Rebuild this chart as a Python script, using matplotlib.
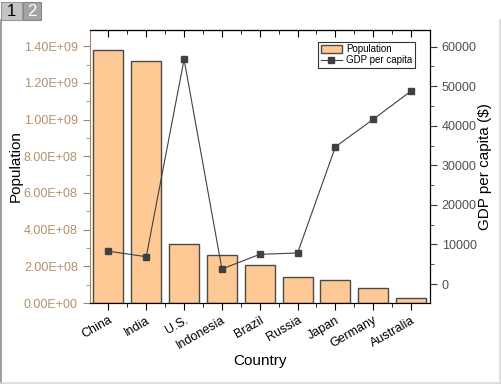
import numpy as np
import matplotlib
matplotlib.use("Agg")
import matplotlib.pyplot as plt
from matplotlib.ticker import FixedLocator, MultipleLocator, FuncFormatter, NullFormatter
from matplotlib.patches import Rectangle
from matplotlib.lines import Line2D

plt.rcParams['font.family'] = ['Liberation Sans', 'DejaVu Sans']

countries = ["China", "India", "U.S.", "Indonesia", "Brazil", "Russia", "Japan", "Germany", "Australia"]
population = [1.379e9, 1.319e9, 3.20e8, 2.62e8, 2.07e8, 1.40e8, 1.24e8, 8.0e7, 2.5e7]
gdp_per_capita = [8300, 6900, 56800, 3800, 7500, 7850, 34700, 41650, 48800]

bar_color = "#fec994"
edge_color = "#4a4a4a"
left_color = "#a88462"
left_text = "#b4906c"
right_text = "#505050"

fig = plt.figure(figsize=(5.02, 3.85), dpi=100)
ax = fig.add_axes([89.5 / 502, 1 - 303 / 385, (430 - 89.5) / 502, (303 - 29.7) / 385])
ax2 = ax.twinx()

x = np.arange(len(countries))
ax.bar(x, population, width=0.79, color=bar_color, edgecolor=edge_color, linewidth=1.0,
       label="Population", zorder=2)
ax.set_xlim(-0.5, len(countries) - 0.5)
ax.set_ylim(0, 1.49e9)
ax.yaxis.set_major_locator(MultipleLocator(2e8))
ax.yaxis.set_minor_locator(MultipleLocator(1e8))
ax.yaxis.set_major_formatter(FuncFormatter(lambda v, p: f"{v:.2E}"))
ax.set_xticks(x)
ax.set_xticklabels(countries, rotation=30, ha="right", rotation_mode="anchor")
ax.xaxis.set_minor_locator(FixedLocator(x[:-1] + 0.5))
ax.tick_params(axis="x", which="both", direction="out", labelsize=9, pad=3)
ax.tick_params(axis="x", which="major", length=5)
ax.tick_params(axis="x", which="minor", length=3)
ax.tick_params(axis="y", which="major", length=5, colors=left_color, labelcolor=left_text, labelsize=9)
ax.tick_params(axis="y", which="minor", length=3, colors=left_color)
ax.spines["left"].set_color(left_color)
ax.set_ylabel("Population", fontsize=11, labelpad=1)
ax.set_xlabel("Country", fontsize=11, labelpad=2)

# top axis: ticks pointing inward, no labels
top = ax.secondary_xaxis("top")
top.set_xticks(x)
top.xaxis.set_minor_locator(FixedLocator(x[:-1] + 0.5))
top.xaxis.set_major_formatter(NullFormatter())
top.tick_params(axis="x", which="both", direction="in")
top.tick_params(axis="x", which="major", length=5)
top.tick_params(axis="x", which="minor", length=3)

ax2.plot(x, gdp_per_capita, color="#404040", linewidth=0.8, marker="s", markersize=4,
         label="GDP per capita", zorder=3)
ax2.set_ylim(-4800, 64300)
ax2.yaxis.set_major_locator(MultipleLocator(10000))
ax2.yaxis.set_minor_locator(MultipleLocator(5000))
ax2.tick_params(axis="y", which="major", length=5, labelsize=9, colors="#333333")
ax2.tick_params(axis="y", which="minor", length=3, colors="#333333")
ax2.tick_params(axis="y", labelcolor=right_text)
ax2.spines["left"].set_visible(False)
ax2.set_ylabel("GDP per capita ($)", fontsize=11, labelpad=1)

h1, l1 = ax.get_legend_handles_labels()
h2, l2 = ax2.get_legend_handles_labels()
leg = ax2.legend(h1 + h2, l1 + l2, loc="upper right", bbox_to_anchor=(0.955, 0.955),
                 fontsize=7, frameon=True, fancybox=False, edgecolor="black",
                 handlelength=2.2, handleheight=0.9, borderpad=0.25, labelspacing=0.1,
                 handletextpad=0.4, borderaxespad=0)
leg.get_frame().set_linewidth(0.8)

# window frame and tabs
def px_line(xs, ys, color, lw):
    fig.add_artist(Line2D([v / 502 for v in xs], [1 - v / 385 for v in ys],
                          transform=fig.transFigure, color=color, linewidth=lw))

px_line([1.5, 1.5], [20, 383], "#8c8c8c", 1.2)
px_line([1.5, 500], [382.5, 382.5], "#d8d8d8", 1.2)
px_line([500, 500], [20, 383], "#d8d8d8", 1.2)

fig.patches.append(Rectangle((1 / 502, 1 - 20 / 385), 21 / 502, 18 / 385, transform=fig.transFigure,
                             facecolor="#c4c4c4", edgecolor="#999999", linewidth=0.8))
fig.patches.append(Rectangle((23 / 502, 1 - 20 / 385), 18 / 502, 18 / 385, transform=fig.transFigure,
                             facecolor="#a4a4a4", edgecolor="#888888", linewidth=0.8))
fig.text(11.5 / 502, 1 - 11 / 385, "1", fontsize=12, ha="center", va="center", color="black")
fig.text(32 / 502, 1 - 11 / 385, "2", fontsize=12, ha="center", va="center", color="white")

fig.savefig("out.png", dpi=100)
